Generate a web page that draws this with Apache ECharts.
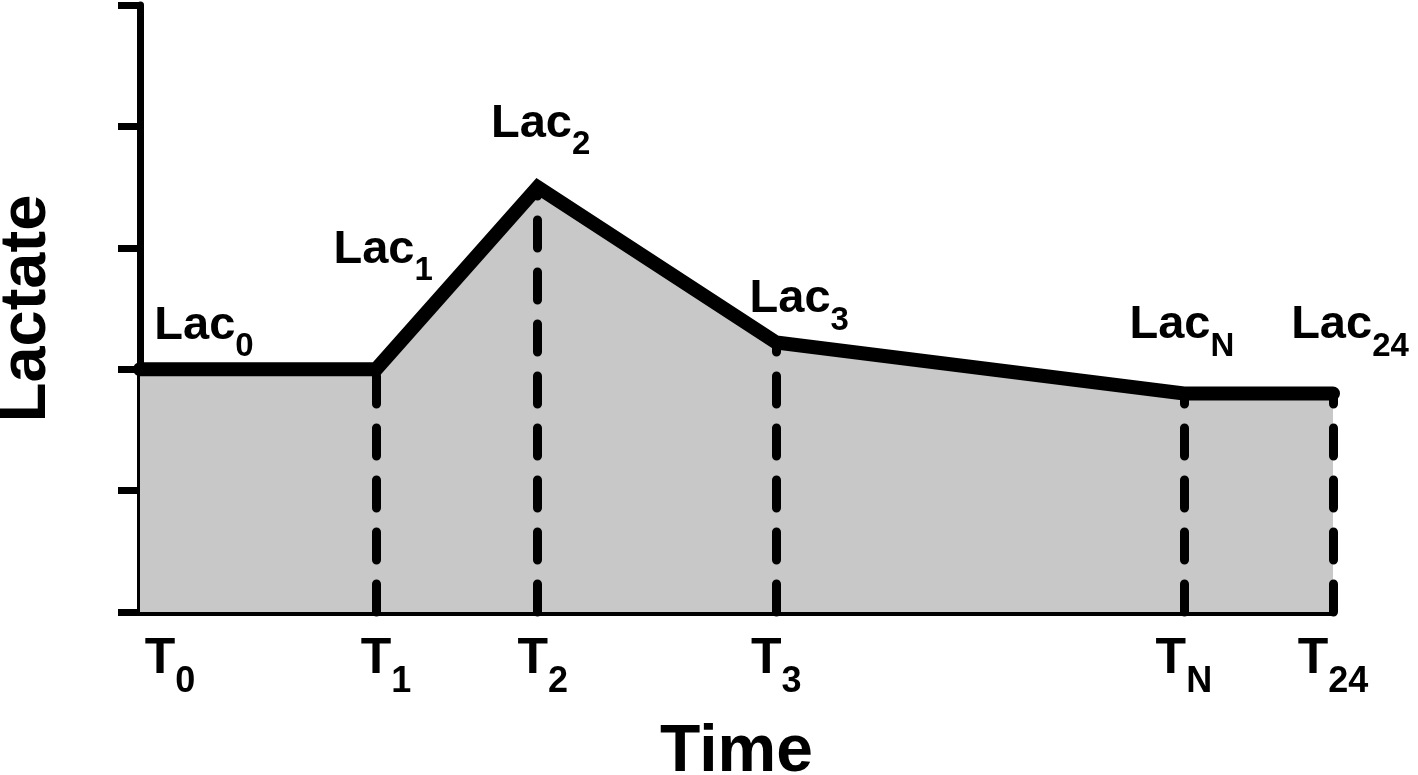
<!DOCTYPE html>
<html>
<head>
<meta charset="utf-8">
<script src="https://cdn.jsdelivr.net/npm/echarts@6/dist/echarts.min.js"></script>
<style>
  html, body { margin: 0; padding: 0; background: #fff; }
  #chart { width: 1418px; height: 775px; }
</style>
</head>
<body>
<div id="chart"></div>
<script>
  // schematic time points (hours) and lactate levels
  const times = [0, 4.75, 8, 12.8, 21, 24]
  const lactate = [2, 2, 3.5, 2.22, 1.8, 1.8]
  const timeSubs = ['0', '1', '2', '3', 'N', '24']
  const lacSubs = ['0', '1', '2', '3', 'N', '24']
  const yTicks = [0, 1, 2, 3, 4, 5]

  // label nudges (style only)
  const lacOffsets = [[64, -19], [7, -95], [3, -39], [23, -19], [-2, -44], [17, -44]]
  const timePads = [60, 20, 10, 0, 0, 0]

  const font = '"Liberation Sans", Arial, sans-serif'
  const points = times.map((t, i) => [t, lactate[i]])

  const tRich = {}
  timePads.forEach((p, i) => {
    tRich['t' + i] = { fontFamily: font, fontWeight: 'bold', fontSize: 50, lineHeight: 50, color: '#000', padding: [0, 0, 0, p] }
  })
  tRich.s = { fontFamily: font, fontWeight: 'bold', fontSize: 36, lineHeight: 36, color: '#000', verticalAlign: 'top', padding: [30, 0, 0, 0] }

  const chart = echarts.init(document.getElementById('chart'))
  chart.setOption({
    animation: false,
    grid: { left: 140, right: 85, top: 5, bottom: 163, outerBoundsMode: 'none' },
    xAxis: {
      type: 'value',
      min: times[0],
      max: times[times.length - 1],
      name: 'Time',
      nameLocation: 'middle',
      nameGap: 108,
      nameTextStyle: { fontFamily: font, fontWeight: 'bold', fontSize: 66, color: '#000' },
      axisLine: { lineStyle: { color: '#000', width: 7 } },
      axisTick: { show: false },
      splitLine: { show: false },
      axisLabel: {
        customValues: times,
        margin: 22,
        formatter: (v) => {
          const i = times.indexOf(v)
          return '{t' + i + '|T}{s|' + timeSubs[i] + '}'
        },
        rich: tRich
      }
    },
    yAxis: {
      type: 'value',
      min: yTicks[0],
      max: yTicks[yTicks.length - 1],
      interval: 1,
      name: 'Lactate',
      nameLocation: 'middle',
      nameGap: 80,
      nameRotate: 90,
      nameTextStyle: { fontFamily: font, fontWeight: 'bold', fontSize: 65, color: '#000' },
      axisLine: { show: true, lineStyle: { color: '#000', width: 7 } },
      axisTick: { show: true, length: 22, lineStyle: { color: '#000', width: 7 } },
      axisLabel: { show: false },
      splitLine: { show: false }
    },
    series: [
      {
        // grey area + dashed drop lines
        type: 'line',
        data: points,
        symbol: 'none',
        z: 1,
        lineStyle: { width: 0 },
        areaStyle: { color: '#c8c8c8', opacity: 1 },
        markLine: {
          silent: true,
          symbol: ['none', 'none'],
          label: { show: false },
          lineStyle: { color: '#000', width: 9, type: [28, 24], cap: 'round' },
          data: times.slice(1).map((t, k) => [
            { coord: [t, 0] },
            { coord: [t, lactate[k + 1]] }
          ])
        }
      },
      {
        type: 'line',
        z: 3,
        data: points.map((p, i) => ({
          value: p,
          label: { offset: lacOffsets[i] }
        })),
        symbol: 'circle',
        symbolSize: 1,
        itemStyle: { color: '#000' },
        lineStyle: { color: '#000', width: 14, cap: 'round', join: 'miter' },
        label: {
          show: true,
          position: 'top',
          distance: 0,
          formatter: (p) => '{b|Lac}{s|' + lacSubs[p.dataIndex] + '}',
          rich: {
            b: { fontFamily: font, fontWeight: 'bold', fontSize: 47, lineHeight: 47, color: '#000' },
            s: { fontFamily: font, fontWeight: 'bold', fontSize: 33, lineHeight: 33, color: '#000', verticalAlign: 'top', padding: [28, 0, 0, 0] }
          }
        }
      }
    ]
  })
</script>
</body>
</html>
